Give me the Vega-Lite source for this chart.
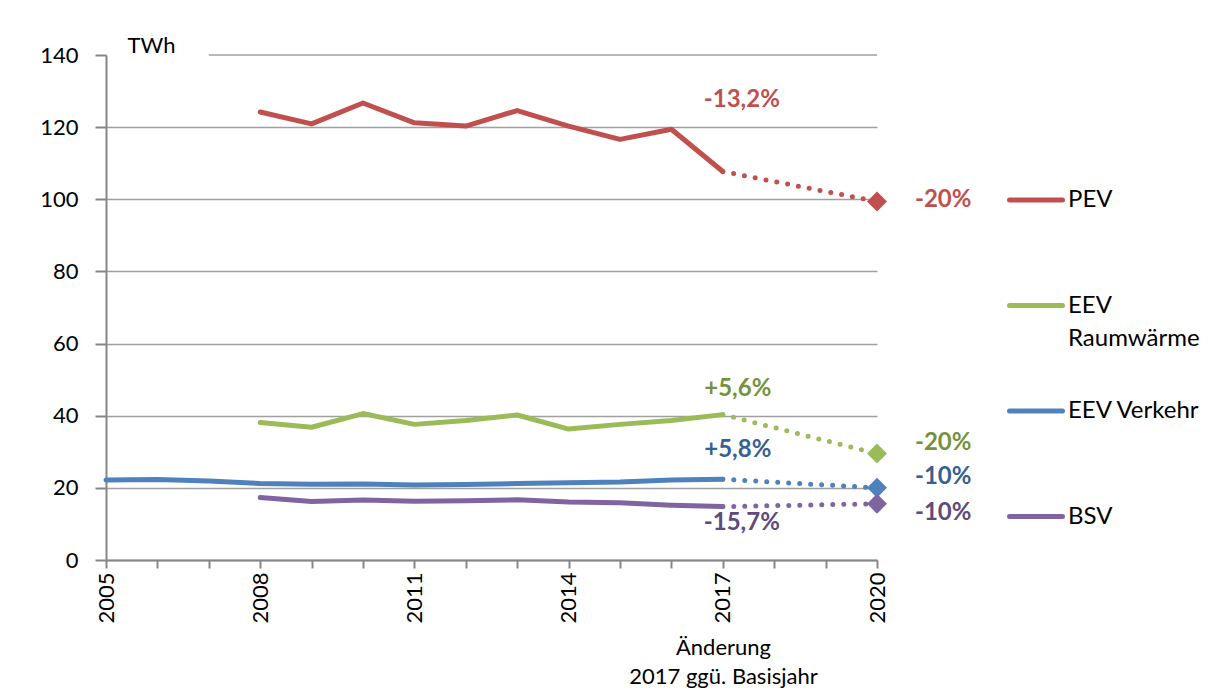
{
  "$schema": "https://vega.github.io/schema/vega-lite/v6.json",
  "width": 771,
  "height": 505,
  "autosize": {"type": "none"},
  "padding": {"left": 106, "top": 55, "right": 344, "bottom": 134},
  "background": "white",
  "config": {
    "font": "Lato",
    "view": {"stroke": null},
    "axis": {
      "labelFont": "Lato",
      "labelFontSize": 22,
      "labelColor": "#000000",
      "titleFont": "Lato",
      "titleFontSize": 22,
      "titleFontWeight": "normal",
      "titleColor": "#000000",
      "domainColor": "#868686",
      "domainWidth": 2,
      "tickColor": "#868686",
      "tickWidth": 2,
      "gridColor": "#a0a0a0",
      "gridWidth": 1.5
    }
  },
  "datasets": {
    "hist": [
      {"series": "PEV", "year": 2008, "value": 124.2},
      {"series": "PEV", "year": 2009, "value": 120.9},
      {"series": "PEV", "year": 2010, "value": 126.7},
      {"series": "PEV", "year": 2011, "value": 121.2},
      {"series": "PEV", "year": 2012, "value": 120.3},
      {"series": "PEV", "year": 2013, "value": 124.6},
      {"series": "PEV", "year": 2014, "value": 120.3},
      {"series": "PEV", "year": 2015, "value": 116.6},
      {"series": "PEV", "year": 2016, "value": 119.4},
      {"series": "PEV", "year": 2017, "value": 107.7},
      {"series": "EEV Raumwärme", "year": 2008, "value": 38.1},
      {"series": "EEV Raumwärme", "year": 2009, "value": 36.8},
      {"series": "EEV Raumwärme", "year": 2010, "value": 40.6},
      {"series": "EEV Raumwärme", "year": 2011, "value": 37.6},
      {"series": "EEV Raumwärme", "year": 2012, "value": 38.7},
      {"series": "EEV Raumwärme", "year": 2013, "value": 40.2},
      {"series": "EEV Raumwärme", "year": 2014, "value": 36.3},
      {"series": "EEV Raumwärme", "year": 2015, "value": 37.6},
      {"series": "EEV Raumwärme", "year": 2016, "value": 38.7},
      {"series": "EEV Raumwärme", "year": 2017, "value": 40.3},
      {"series": "EEV Verkehr", "year": 2005, "value": 22.2},
      {"series": "EEV Verkehr", "year": 2006, "value": 22.3},
      {"series": "EEV Verkehr", "year": 2007, "value": 21.9},
      {"series": "EEV Verkehr", "year": 2008, "value": 21.2},
      {"series": "EEV Verkehr", "year": 2009, "value": 21.0},
      {"series": "EEV Verkehr", "year": 2010, "value": 21.1},
      {"series": "EEV Verkehr", "year": 2011, "value": 20.8},
      {"series": "EEV Verkehr", "year": 2012, "value": 20.9},
      {"series": "EEV Verkehr", "year": 2013, "value": 21.2},
      {"series": "EEV Verkehr", "year": 2014, "value": 21.4},
      {"series": "EEV Verkehr", "year": 2015, "value": 21.6},
      {"series": "EEV Verkehr", "year": 2016, "value": 22.2},
      {"series": "EEV Verkehr", "year": 2017, "value": 22.4},
      {"series": "BSV", "year": 2008, "value": 17.3},
      {"series": "BSV", "year": 2009, "value": 16.2},
      {"series": "BSV", "year": 2010, "value": 16.6},
      {"series": "BSV", "year": 2011, "value": 16.3},
      {"series": "BSV", "year": 2012, "value": 16.4},
      {"series": "BSV", "year": 2013, "value": 16.7},
      {"series": "BSV", "year": 2014, "value": 16.1},
      {"series": "BSV", "year": 2015, "value": 15.9},
      {"series": "BSV", "year": 2016, "value": 15.2},
      {"series": "BSV", "year": 2017, "value": 14.8}
    ],
    "proj": [
      {"series": "PEV", "year": 2017, "value": 107.7},
      {"series": "PEV", "year": 2020, "value": 99.4},
      {"series": "EEV Raumwärme", "year": 2017, "value": 40.3},
      {"series": "EEV Raumwärme", "year": 2020, "value": 29.5},
      {"series": "EEV Verkehr", "year": 2017, "value": 22.4},
      {"series": "EEV Verkehr", "year": 2020, "value": 20.0},
      {"series": "BSV", "year": 2017, "value": 14.8},
      {"series": "BSV", "year": 2020, "value": 15.6}
    ],
    "notes": [
      {"series": "PEV", "year": 2017, "value": 107.7, "label": "-13,2%"},
      {"series": "EEV Raumwärme", "year": 2017, "value": 40.3, "label": "+5,6%"},
      {"series": "EEV Verkehr", "year": 2017, "value": 22.4, "label": "+5,8%"},
      {"series": "BSV", "year": 2017, "value": 14.8, "label": "-15,7%"},
      {"series": "PEV", "year": 2020, "value": 99.4, "label": "-20%"},
      {"series": "EEV Raumwärme", "year": 2020, "value": 29.5, "label": "-20%"},
      {"series": "EEV Verkehr", "year": 2020, "value": 20.0, "label": "-10%"},
      {"series": "BSV", "year": 2020, "value": 15.6, "label": "-10%"}
    ],
    "gridtop": [
      {"from": 2007, "to": 2020, "level": 140}
    ]
  },
  "encoding": {
    "x": {"field": "year", "type": "quantitative", "scale": {"domain": [2005, 2020], "nice": false, "zero": false}},
    "y": {"field": "value", "type": "quantitative", "scale": {"domain": [0, 140], "nice": false}}
  },
  "layer": [
    {
      "data": {"name": "gridtop"},
      "mark": {"type": "rule", "color": "#a0a0a0", "strokeWidth": 1.5},
      "encoding": {
        "x": {"field": "from", "type": "quantitative"},
        "x2": {"field": "to"},
        "y": {"field": "level", "type": "quantitative"}
      }
    },
    {
      "data": {"name": "hist"},
      "mark": {"type": "line", "strokeWidth": 5, "strokeCap": "round", "strokeJoin": "round"},
      "encoding": {
        "x": {
          "field": "year", "type": "quantitative",
          "scale": {"domain": [2005, 2020], "nice": false, "zero": false},
          "axis": {
            "title": ["Änderung", "2017 ggü. Basisjahr"],
            "titleX": 617,
            "titleY": 77,
            "titleAlign": "center",
            "titleAnchor": null,
            "titleBaseline": "top",
            "titleLineHeight": 29,
            "values": [2005, 2006, 2007, 2008, 2009, 2010, 2011, 2012, 2013, 2014, 2015, 2016, 2017, 2018, 2019, 2020],
            "labelExpr": "(datum.value - 2005) % 3 == 0 ? '' + datum.value : ''",
            "labelAngle": -90,
            "labelOverlap": false,
            "labelFlush": false,
            "labelPadding": 4,
            "tickSize": 8,
            "grid": false
          }
        },
        "y": {
          "field": "value", "type": "quantitative",
          "scale": {"domain": [0, 140], "nice": false},
          "axis": {
            "title": "TWh",
            "titleAngle": 0,
            "titleX": 21,
            "titleY": -10,
            "titleAlign": "left",
            "titleBaseline": "middle",
            "values": [0, 20, 40, 60, 80, 100, 120, 140],
            "format": "d",
            "tickSize": 11,
            "labelPadding": 17,
            "grid": true,
            "gridOpacity": {"condition": {"test": "datum.value == 140", "value": 0}, "value": 1}
          }
        },
        "color": {
          "field": "series", "type": "nominal",
          "scale": {
            "domain": ["PEV", "EEV Raumwärme", "EEV Verkehr", "BSV"],
            "range": ["#C0504D", "#9BBB59", "#4F81BD", "#8064A2"]
          },
          "legend": {
            "title": null,
            "orient": "none",
            "legendX": 901,
            "legendY": 116,
            "padding": 0,
            "symbolType": "stroke",
            "symbolSize": 2809,
            "symbolStrokeWidth": 5,
            "labelFont": "Lato",
            "labelFontSize": 24,
            "labelColor": "#000000",
            "labelLimit": 400,
            "labelOffset": 3,
            "labelBaseline": "middle",
            "rowPadding": 31.5,
            "labelExpr": "datum.label == 'EEV Raumwärme' ? ['EEV', 'Raumwärme'] : [datum.label, ' ']",
            "encode": {
              "symbols": {"update": {"strokeCap": {"value": "round"}}},
              "labels": {"update": {"lineHeight": {"value": 33}}}
            }
          }
        }
      }
    },
    {
      "data": {"name": "proj"},
      "mark": {"type": "line", "strokeWidth": 5, "strokeCap": "round", "strokeDash": [0, 11]},
      "encoding": {
        "color": {"field": "series", "type": "nominal"}
      }
    },
    {
      "data": {"name": "proj"},
      "transform": [{"filter": "datum.year == 2020"}],
      "mark": {"type": "point", "shape": "diamond", "filled": true, "size": 400, "opacity": 1},
      "encoding": {
        "color": {"field": "series", "type": "nominal"}
      }
    },
    {
      "data": {"name": "notes"},
      "transform": [{"filter": "datum.series == 'PEV' && datum.year == 2017"}],
      "mark": {"type": "text", "align": "center", "baseline": "middle", "dx": 19, "dy": -72, "fontSize": 24, "fontWeight": "bold", "color": "#C0504D"},
      "encoding": {"text": {"field": "label"}}
    },
    {
      "data": {"name": "notes"},
      "transform": [{"filter": "datum.series == 'EEV Raumwärme' && datum.year == 2017"}],
      "mark": {"type": "text", "align": "center", "baseline": "middle", "dx": 15, "dy": -26, "fontSize": 24, "fontWeight": "bold", "color": "#76923C"},
      "encoding": {"text": {"field": "label"}}
    },
    {
      "data": {"name": "notes"},
      "transform": [{"filter": "datum.series == 'EEV Verkehr' && datum.year == 2017"}],
      "mark": {"type": "text", "align": "center", "baseline": "middle", "dx": 15, "dy": -29, "fontSize": 24, "fontWeight": "bold", "color": "#376092"},
      "encoding": {"text": {"field": "label"}}
    },
    {
      "data": {"name": "notes"},
      "transform": [{"filter": "datum.series == 'BSV' && datum.year == 2017"}],
      "mark": {"type": "text", "align": "center", "baseline": "middle", "dx": 19, "dy": 16, "fontSize": 24, "fontWeight": "bold", "color": "#604A7B"},
      "encoding": {"text": {"field": "label"}}
    },
    {
      "data": {"name": "notes"},
      "transform": [{"filter": "datum.series == 'PEV' && datum.year == 2020"}],
      "mark": {"type": "text", "align": "left", "baseline": "middle", "dx": 38, "dy": -1, "fontSize": 24, "fontWeight": "bold", "color": "#C0504D"},
      "encoding": {"text": {"field": "label"}}
    },
    {
      "data": {"name": "notes"},
      "transform": [{"filter": "datum.series == 'EEV Raumwärme' && datum.year == 2020"}],
      "mark": {"type": "text", "align": "left", "baseline": "middle", "dx": 38, "dy": -11, "fontSize": 24, "fontWeight": "bold", "color": "#76923C"},
      "encoding": {"text": {"field": "label"}}
    },
    {
      "data": {"name": "notes"},
      "transform": [{"filter": "datum.series == 'EEV Verkehr' && datum.year == 2020"}],
      "mark": {"type": "text", "align": "left", "baseline": "middle", "dx": 38, "dy": -11, "fontSize": 24, "fontWeight": "bold", "color": "#376092"},
      "encoding": {"text": {"field": "label"}}
    },
    {
      "data": {"name": "notes"},
      "transform": [{"filter": "datum.series == 'BSV' && datum.year == 2020"}],
      "mark": {"type": "text", "align": "left", "baseline": "middle", "dx": 38, "dy": 9, "fontSize": 24, "fontWeight": "bold", "color": "#604A7B"},
      "encoding": {"text": {"field": "label"}}
    }
  ]
}
